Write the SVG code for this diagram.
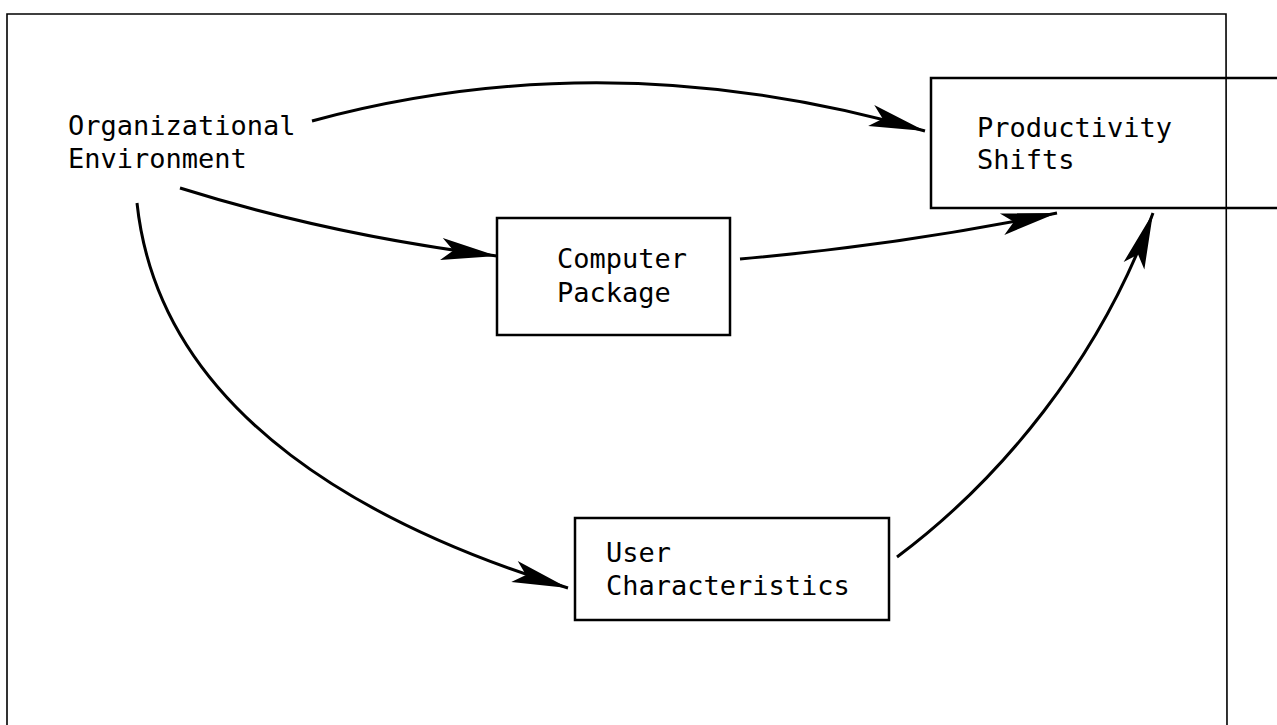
<svg xmlns="http://www.w3.org/2000/svg" width="1277" height="725" viewBox="0 0 1277 725">
<style>
.lbl{font-family:"DejaVu Sans Mono","Liberation Mono",monospace;font-size:27px;fill:#000}
.box{fill:none;stroke:#000;stroke-width:2.5}
.frame{fill:none;stroke:#000;stroke-width:1.6}
.conn{fill:none;stroke:#000;stroke-width:3;marker-end:url(#ah)}
</style>
<defs>
<marker id="ah" markerUnits="userSpaceOnUse" markerWidth="70" markerHeight="40" viewBox="-60 -20 70 40" refX="0" refY="0" orient="auto">
<path d="M0,0 L-56,-11 L-44,0 L-56,11 Z" fill="#000"/>
</marker>
</defs>
<rect width="1277" height="725" fill="#fff"/>
<g id="frame">
<path class="frame" d="M7,725 L7,14 L1226,14 L1227,725"/>
</g>
<g id="organizational-environment">
<text class="lbl" x="68" y="135">Organizational</text>
<text class="lbl" x="68" y="168">Environment</text>
</g>
<g id="productivity-shifts">
<path class="box" d="M1277,78 L931,78 L931,208 L1277,208"/>
<text class="lbl" x="977" y="137">Productivity</text>
<text class="lbl" x="977" y="169">Shifts</text>
</g>
<g id="computer-package">
<rect class="box" x="497" y="218" width="233" height="117"/>
<text class="lbl" x="557" y="268">Computer</text>
<text class="lbl" x="557" y="302">Package</text>
</g>
<g id="user-characteristics">
<rect class="box" x="575" y="518" width="314" height="102"/>
<text class="lbl" x="606" y="562">User</text>
<text class="lbl" x="606" y="595">Characteristics</text>
</g>
<g id="connectors">
<path class="conn" d="M312,121 Q610,40 925,131"/>
<path class="conn" d="M180,188 Q330,235 497,256"/>
<path class="conn" d="M740,259 Q900,245 1057,213"/>
<path class="conn" d="M137,203 C160,420 380,530 568,588"/>
<path class="conn" d="M897,557 C1000,480 1100,360 1153,213"/>
</g>
</svg>
